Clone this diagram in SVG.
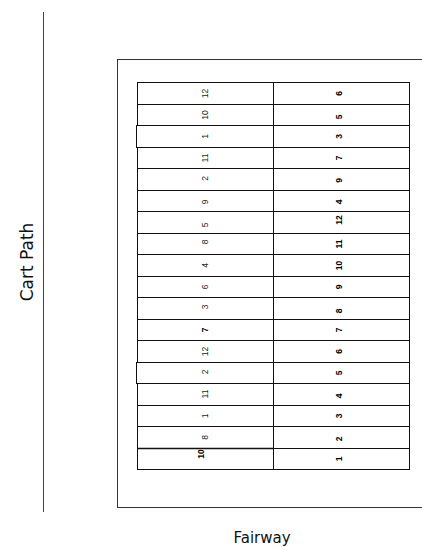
<svg xmlns="http://www.w3.org/2000/svg" width="422" height="550" viewBox="0 0 422 550">
<style>
.cell{fill:#fff;stroke:#111;stroke-width:1}
.frame{fill:none;stroke:#333;stroke-width:1}
.l{font-family:"Liberation Sans",Arial,sans-serif;font-size:8.5px;fill:#222;text-anchor:middle;dominant-baseline:central}
.r{font-family:"Liberation Sans",Arial,sans-serif;font-size:8.5px;font-weight:bold;fill:#000;text-anchor:middle;dominant-baseline:central}
.b{font-weight:bold;fill:#000}
.big{font-family:"DejaVu Sans","Liberation Sans",sans-serif;fill:#111;text-anchor:middle;font-weight:normal}
</style>
<rect width="422" height="550" fill="#fff"/>
<g id="cart-path">
<line x1="43.5" y1="12" x2="43.5" y2="512" stroke="#444" stroke-width="1"/>
<text class="big" font-size="17" transform="translate(33 262) rotate(-90)">Cart Path</text>
</g>
<g id="fairway">
<rect class="frame" x="117.5" y="59.5" width="330" height="448"/>
<text class="big" x="262" y="543" font-size="15">Fairway</text>
</g>
<g id="table">
<g id="row1"><rect class="cell" x="137.5" y="82.5" width="136" height="22"/><rect class="cell" x="273.5" y="82.5" width="136" height="22"/><text class="l" transform="translate(205 93.5) rotate(-90)">12</text><text class="r" transform="translate(339 93.5) rotate(-90)">6</text></g>
<g id="row2"><rect class="cell" x="137.5" y="104.5" width="136" height="21"/><rect class="cell" x="273.5" y="104.5" width="136" height="21"/><text class="l" transform="translate(205 115) rotate(-90)">10</text><text class="r" transform="translate(339 117) rotate(-90)">5</text></g>
<g id="row3"><rect class="cell" x="136.5" y="125.5" width="137" height="22"/><rect class="cell" x="273.5" y="125.5" width="136" height="22"/><text class="l" transform="translate(205 136.5) rotate(-90)">1</text><text class="r" transform="translate(339 136.5) rotate(-90)">3</text></g>
<g id="row4"><rect class="cell" x="137.5" y="147.5" width="136" height="21"/><rect class="cell" x="273.5" y="147.5" width="136" height="21"/><text class="l" transform="translate(205 158) rotate(-90)">11</text><text class="r" transform="translate(339 158) rotate(-90)">7</text></g>
<g id="row5"><rect class="cell" x="137.5" y="168.5" width="136" height="22"/><rect class="cell" x="273.5" y="168.5" width="136" height="22"/><text class="l" transform="translate(205 178.5) rotate(-90)">2</text><text class="r" transform="translate(339 180.5) rotate(-90)">9</text></g>
<g id="row6"><rect class="cell" x="137.5" y="190.5" width="136" height="21"/><rect class="cell" x="273.5" y="190.5" width="136" height="21"/><text class="l" transform="translate(205 202) rotate(-90)">9</text><text class="r" transform="translate(339 202) rotate(-90)">4</text></g>
<g id="row7"><rect class="cell" x="137.5" y="211.5" width="136" height="22"/><rect class="cell" x="273.5" y="211.5" width="136" height="22"/><text class="l" transform="translate(205 225) rotate(-90)">5</text><text class="r" transform="translate(339 220) rotate(-90)">12</text></g>
<g id="row8"><rect class="cell" x="137.5" y="233.5" width="136" height="21"/><rect class="cell" x="273.5" y="233.5" width="136" height="21"/><text class="l" transform="translate(205 242) rotate(-90)">8</text><text class="r" transform="translate(339 244) rotate(-90)">11</text></g>
<g id="row9"><rect class="cell" x="137.5" y="254.5" width="136" height="22"/><rect class="cell" x="273.5" y="254.5" width="136" height="22"/><text class="l" transform="translate(205 265.5) rotate(-90)">4</text><text class="r" transform="translate(339 265.5) rotate(-90)">10</text></g>
<g id="row10"><rect class="cell" x="137.5" y="276.5" width="136" height="21"/><rect class="cell" x="273.5" y="276.5" width="136" height="21"/><text class="l" transform="translate(205 287) rotate(-90)">6</text><text class="r" transform="translate(339 287) rotate(-90)">9</text></g>
<g id="row11"><rect class="cell" x="137.5" y="297.5" width="136" height="22"/><rect class="cell" x="273.5" y="297.5" width="136" height="22"/><text class="l" transform="translate(205 307) rotate(-90)">3</text><text class="r" transform="translate(339 311) rotate(-90)">8</text></g>
<g id="row12"><rect class="cell" x="137.5" y="319.5" width="136" height="21"/><rect class="cell" x="273.5" y="319.5" width="136" height="21"/><text class="l b" transform="translate(205 330) rotate(-90)">7</text><text class="r" transform="translate(339 330) rotate(-90)">7</text></g>
<g id="row13"><rect class="cell" x="137.5" y="340.5" width="136" height="22"/><rect class="cell" x="273.5" y="340.5" width="136" height="22"/><text class="l" transform="translate(205 351.5) rotate(-90)">12</text><text class="r" transform="translate(339 351.5) rotate(-90)">6</text></g>
<g id="row14"><rect class="cell" x="136.5" y="362.5" width="137" height="21"/><rect class="cell" x="273.5" y="362.5" width="136" height="21"/><text class="l" transform="translate(205 372) rotate(-90)">2</text><text class="r" transform="translate(339 373) rotate(-90)">5</text></g>
<g id="row15"><rect class="cell" x="137.5" y="383.5" width="136" height="22"/><rect class="cell" x="273.5" y="383.5" width="136" height="22"/><text class="l" transform="translate(205 394) rotate(-90)">11</text><text class="r" transform="translate(339 396) rotate(-90)">4</text></g>
<g id="row16"><rect class="cell" x="137.5" y="405.5" width="136" height="21"/><rect class="cell" x="273.5" y="405.5" width="136" height="21"/><text class="l" transform="translate(205 416) rotate(-90)">1</text><text class="r" transform="translate(339 416) rotate(-90)">3</text></g>
<g id="row17"><rect class="cell" x="137.5" y="426.5" width="136" height="22"/><rect class="cell" x="273.5" y="426.5" width="136" height="22"/><text class="l" transform="translate(205 437.5) rotate(-90)">8</text><text class="r" transform="translate(339 439) rotate(-90)">2</text></g>
<g id="row18"><rect class="cell" x="137.5" y="448.5" width="136" height="21"/><rect class="cell" x="273.5" y="448.5" width="136" height="21"/><line x1="137" y1="448.5" x2="273" y2="448.5" stroke="#111" stroke-width="1.5"/><text class="l b" transform="translate(201 454) rotate(-90)">10</text><text class="r" transform="translate(339 459) rotate(-90)">1</text></g>
</g>
</svg>
